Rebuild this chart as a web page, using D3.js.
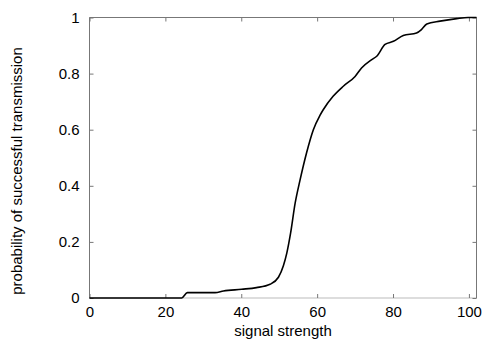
<!DOCTYPE html>
<html><head><meta charset="utf-8">
<script src="https://cdn.jsdelivr.net/npm/d3@7"></script>
<style>body{margin:0;background:#fff}svg{display:block}text{font-family:"Liberation Sans",Arial,sans-serif;}</style>
</head><body>
<svg id="c" width="487" height="349"></svg>
<script>
const signal = [0, 24.3, 25.8, 33.1, 35.3, 40.1, 44, 47.6, 49.8, 51.1, 52, 53, 54.2, 55.5, 57.2, 59, 60.7, 61.6, 64.2, 66.9, 70, 71.7, 74.4, 75.7, 77.9, 80.1, 82.7, 86.2, 87.5, 88.9, 92.4, 96.8, 99.8, 102];
const prob   = [0, 0, 0.019, 0.019, 0.025, 0.031, 0.037, 0.049, 0.074, 0.115, 0.16, 0.231, 0.338, 0.421, 0.517, 0.6, 0.65, 0.671, 0.719, 0.755, 0.79, 0.82, 0.85, 0.862, 0.904, 0.915, 0.936, 0.945, 0.957, 0.977, 0.987, 0.996, 1.0, 1.0];
const xTicks = [0, 20, 40, 60, 80, 100];
const yTicks = [0, 0.2, 0.4, 0.6, 0.8, 1];
const xLabel = "signal strength";
const yLabel = "probability of successful transmission";

const svg = d3.select("#c");
const L = 89.5, R = 476.5, T = 17.5, B = 298;
const x = d3.scaleLinear().domain([0, 102]).range([L, R]);
const y = d3.scaleLinear().domain([0, 1]).range([B, T]);
const frame = "#777";

svg.append("line").attr("x1", L).attr("x2", R).attr("y1", B).attr("y2", B)
  .attr("stroke", frame).attr("stroke-width", 1).attr("stroke-dasharray", "1,1");
svg.append("path").attr("d", `M${L},${B}V${T}H${R}V${B}`)
  .attr("fill", "none").attr("stroke", frame).attr("stroke-width", 1);

const fmt = d => d === 0 ? "0" : d === 1 ? "1" : d3.format("")(d);
const gx = svg.append("g").attr("transform", `translate(0,${B})`)
  .call(d3.axisBottom(x).tickValues(xTicks).tickSize(-4).tickPadding(8).tickFormat(fmt));
const gxt = svg.append("g").attr("transform", `translate(0,${T})`)
  .call(d3.axisTop(x).tickValues(xTicks).tickSize(-4).tickFormat(""));
const gy = svg.append("g").attr("transform", `translate(${L},0)`)
  .call(d3.axisLeft(y).tickValues(yTicks).tickSize(-4).tickPadding(10).tickFormat(fmt));
const gyr = svg.append("g").attr("transform", `translate(${R},0)`)
  .call(d3.axisRight(y).tickValues(yTicks).tickSize(-4).tickFormat(""));
[gx, gxt, gy, gyr].forEach(g => {
  g.select(".domain").remove();
  g.selectAll(".tick line").attr("stroke", frame);
  g.selectAll("text").attr("font-size", 15).attr("fill", "#000")
    .attr("font-family", '"Liberation Sans",Arial,sans-serif');
});

const pts = signal.map((s, i) => [s, prob[i]]);
svg.append("path").datum(pts)
  .attr("fill", "none").attr("stroke", "#000").attr("stroke-width", 1.6)
  .attr("stroke-linejoin", "round")
  .attr("d", d3.line().x(d => x(d[0])).y(d => y(d[1])).curve(d3.curveMonotoneX));

svg.append("text").attr("x", (L + R) / 2).attr("y", 336).attr("text-anchor", "middle")
  .attr("font-size", 15).text(xLabel);
svg.append("text").attr("transform", "translate(22,171) rotate(-90)").attr("text-anchor", "middle")
  .attr("font-size", 15).text(yLabel);
</script>
</body></html>
